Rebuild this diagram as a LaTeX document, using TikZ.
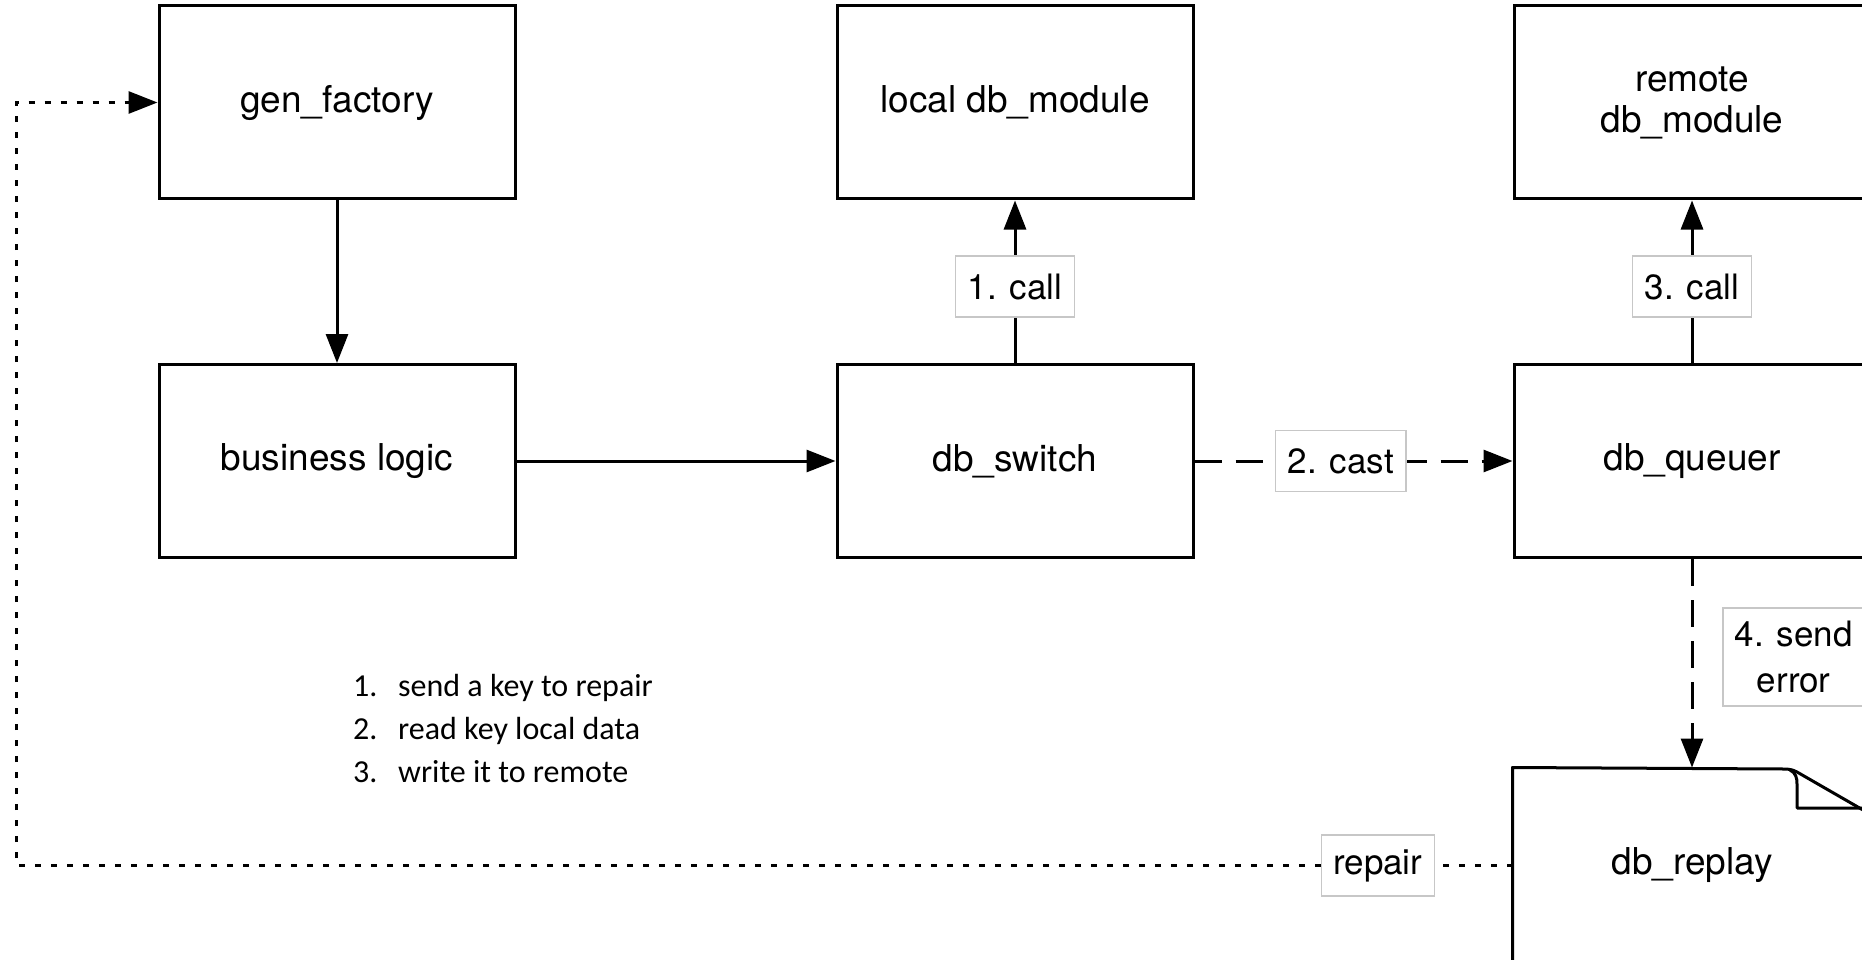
\documentclass[tikz,border=0pt]{standalone}
\usepackage{fontspec}
\setmainfont{TeX Gyre Heros}
\newfontfamily\listfont{Carlito}
\usetikzlibrary{arrows.meta}
\begin{document}
\begin{tikzpicture}[x=1pt,y=-1pt,
  box/.style={draw, line width=3pt, minimum width=356pt, minimum height=193pt, align=center,
    font=\fontsize{37}{41}\selectfont, inner sep=0pt},
  lbl/.style={draw=black!22, solid, line width=1.5pt, fill=white, font=\fontsize{35}{46}\selectfont,
    inner xsep=12pt, inner ysep=0pt, minimum height=61pt, align=center},
  conn/.style={line width=3pt, -{Triangle[length=29pt,width=22pt]}},
  dsh/.style={dash pattern=on 27pt off 14pt},
  dotl/.style={dash pattern=on 6pt off 10pt},
  listtxt/.style={anchor=base west, inner sep=0pt, font=\listfont\fontsize{32}{38}\selectfont},
]
\useasboundingbox (0,0) rectangle (1862,960);
\clip (0,0) rectangle (1862,960);
\fill[white] (0,0) rectangle (1862,960);

\node[box] (gen) at (337,102.5) {gen\_factory};
\node[box] (bl)  at (337,461) {business logic};
\node[box] (ldb) at (1015,102.5) {local db\_module};
\node[box] (sw)  at (1015,461) {db\_switch};
\node[box] (rdb) at (1692,102.5) {remote\\db\_module};
\node[box] (q)   at (1692,461) {db\_queuer};
\node[box, draw=none] (rep) at (1692,865.5) {db\_replay};

% db_replay outline with folded corner
\draw[line width=3pt, line join=round] (rep.south west) -- (rep.north west) -- (1784,769)
  .. controls (1790,769) and (1793,770) .. (1797,772) -- (1870,814) -- (rep.south east);
\draw[line width=3pt, line join=round] (1790,770) .. controls (1796,773) and (1797,778) .. (1797,784)
  -- (1797,808) -- (1866,808);

\draw[conn] (gen) -- (bl);
\draw[conn] (bl) -- (sw);
\draw[conn] (sw) -- node[lbl, pos=0.47] {1. call} (ldb);
\draw[conn, dsh] (sw) -- node[lbl, pos=0.46] {2. cast} (q);
\draw[conn] (q) -- node[lbl, pos=0.47] {3. call} (rdb);
\draw[conn, dsh] (q) -- node[lbl, pos=0.47, anchor=west, xshift=30pt, inner ysep=13pt] {4. send\\error} (rep);

\coordinate (c1) at (16,865.5);
\coordinate (c2) at (16,102.5);
\draw[line width=3pt, dotl, -{Triangle[length=29pt,width=22pt]}]
  (rep.west) -- node[lbl, pos=0.09] {repair} (c1) -- (c2) -- (gen.west);

\node[listtxt] (l1) at (353,696) {\makebox[45pt][l]{1.}send a key to repair};
\node[listtxt] (l2) at (353,739) {\makebox[45pt][l]{2.}read key local data};
\node[listtxt] (l3) at (353,782) {\makebox[45pt][l]{3.}write it to remote};
\end{tikzpicture}
\end{document}
